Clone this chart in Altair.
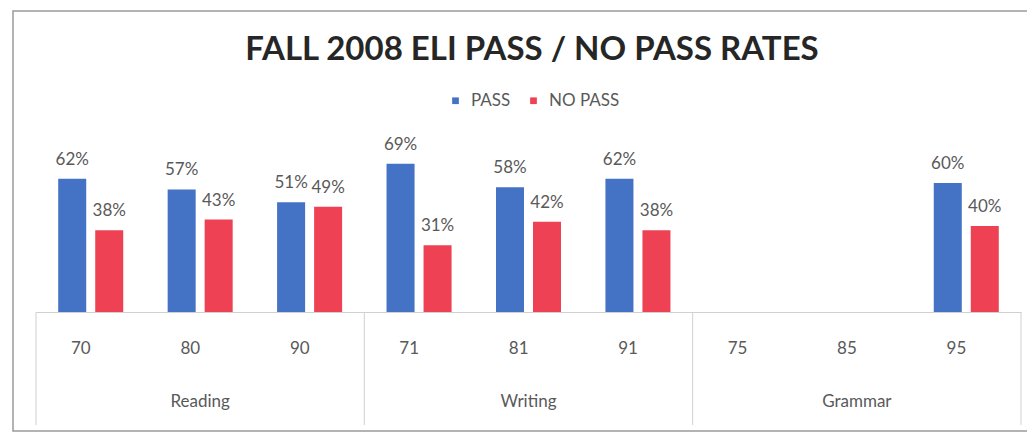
import altair as alt
import pandas as pd

title_text = "FALL 2008 ELI PASS / NO PASS RATES"
courses = ["70", "80", "90", "71", "81", "91", "75", "85", "95"]
subjects = ["Reading", "Reading", "Reading", "Writing", "Writing", "Writing",
            "Grammar", "Grammar", "Grammar"]
pass_rates = [62, 57, 51, 69, 58, 62, None, None, 60]
no_pass_rates = [38, 43, 49, 31, 42, 38, None, None, 40]
series = ["PASS", "NO PASS"]
colors = ["#4472C4", "#EE4254"]

group_names = ["Reading", "Writing", "Grammar"]
group_mid = ["80", "81", "85"]
group_left = ["70", "71", "75"]
group_right_end = ["95"]

rows = []
for c, s, p, n in zip(courses, subjects, pass_rates, no_pass_rates):
    for name, v in zip(series, [p, n]):
        if v is not None:
            rows.append({"course": c, "subject": s, "series": name,
                         "value": v, "label": f"{v}%"})
df = pd.DataFrame(rows)

FONT = "Lato"
GRAY = "#595959"

x_scale = alt.Scale(domain=courses, paddingInner=0, paddingOuter=0)
x_enc = alt.X("course:N", sort=courses, scale=x_scale,
              axis=alt.Axis(title=None, labelAngle=0, ticks=False,
                            domainColor="#d0d0d0", domainWidth=1,
                            labelFontSize=17, labelFont=FONT, labelColor=GRAY,
                            labelPadding=36, labelBaseline="middle"))
xoff = alt.XOffset("series:N", sort=series,
                   scale=alt.Scale(domain=series, paddingInner=0.243, paddingOuter=0.6))
y_enc = alt.Y("value:Q", scale=alt.Scale(domain=[0, 80]), axis=None)

bars = alt.Chart(df).mark_bar().encode(
    x=x_enc, xOffset=xoff, y=y_enc,
    color=alt.Color("series:N", sort=series,
                    scale=alt.Scale(domain=series, range=colors),
                    legend=alt.Legend(title=None, orient="none", direction="horizontal",
                                      legendX=411, legendY=-48, symbolType="square",
                                      symbolSize=45, symbolStrokeWidth=0,
                                      labelFont=FONT, labelFontSize=17, labelColor=GRAY,
                                      labelOffset=7, columnPadding=14)),
)

labels = alt.Chart(df).mark_text(dy=-19, baseline="middle", fontSize=17,
                                 font=FONT, color=GRAY).encode(
    x=x_enc, xOffset=xoff, y=y_enc, text="label:N")

groups_df = pd.DataFrame({"course": group_mid, "subject": group_names})
group_labels = alt.Chart(groups_df).mark_text(fontSize=17, font=FONT, color=GRAY,
                                              baseline="middle").encode(
    x=alt.X("course:N", sort=courses, scale=x_scale),
    y=alt.value(262), text="subject:N")

left_df = pd.DataFrame({"course": group_left})
left_rules = alt.Chart(left_df).mark_rule(color="#d0d0d0", strokeWidth=1).encode(
    x=alt.X("course:N", sort=courses, scale=x_scale, bandPosition=0),
    y=alt.value(172), y2=alt.value(285))
right_df = pd.DataFrame({"course": group_right_end})
right_rules = alt.Chart(right_df).mark_rule(color="#d0d0d0", strokeWidth=1).encode(
    x=alt.X("course:N", sort=courses, scale=x_scale, bandPosition=1),
    y=alt.value(172), y2=alt.value(285))

frame = alt.Chart(pd.DataFrame({"t": [title_text]})).mark_rect(
    fillOpacity=0, stroke="#9a9a9a", strokeWidth=1.5).encode(
    x=alt.value(-23), x2=alt.value(1000), y=alt.value(-129), y2=alt.value(291))

title = alt.Chart(pd.DataFrame({"t": [title_text]})).mark_text(
    fontSize=33, fontWeight="bold", font=FONT, color="#262626", baseline="middle").encode(
    x=alt.value(496), y=alt.value(-90), text="t:N")

chart = alt.layer(frame, left_rules, right_rules, bars, labels, group_labels, title).properties(
    width=985, height=172,
    autosize=alt.AutoSizeParams(type="none"),
    padding={"left": 36, "top": 140, "right": 6, "bottom": 121},
).configure_view(stroke=None)

chart.save("out.html", embed_options={"renderer": "svg", "actions": False})
